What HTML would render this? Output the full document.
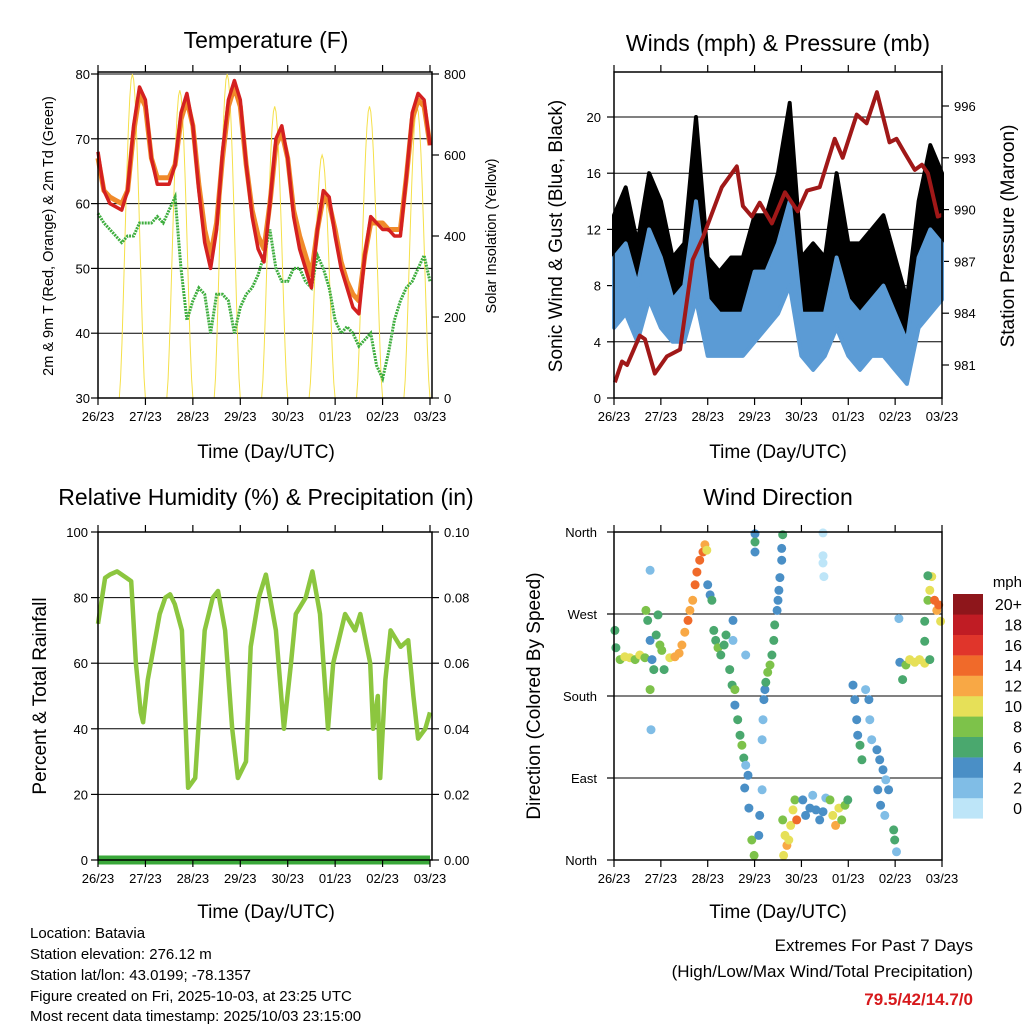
<!DOCTYPE html>
<html><head><meta charset="utf-8"><style>
body{margin:0;background:#fff}
svg{display:block;font-family:"Liberation Sans",sans-serif}
</style></head><body>
<svg id="s" width="1024" height="1024" viewBox="0 0 1024 1024" xmlns="http://www.w3.org/2000/svg">
<g id="layer"></g>
<text x="266" y="48" font-size="23" text-anchor="middle">Temperature (F)</text>
<text x="778" y="51" font-size="23" text-anchor="middle">Winds (mph) &amp; Pressure (mb)</text>
<text x="266" y="505" font-size="23" text-anchor="middle">Relative Humidity (%) &amp; Precipitation (in)</text>
<text x="778" y="505" font-size="23" text-anchor="middle">Wind Direction</text>
<text x="266" y="458" font-size="19" text-anchor="middle">Time (Day/UTC)</text>
<text x="778" y="458" font-size="19" text-anchor="middle">Time (Day/UTC)</text>
<text x="266" y="918" font-size="19" text-anchor="middle">Time (Day/UTC)</text>
<text x="778" y="918" font-size="19" text-anchor="middle">Time (Day/UTC)</text>
<text transform="translate(53,236) rotate(-90)" font-size="14.5" text-anchor="middle">2m &amp; 9m T (Red, Orange) &amp; 2m Td (Green)</text>
<text transform="translate(496,236) rotate(-90)" font-size="14.5" text-anchor="middle">Solar Insolation (Yellow)</text>
<text transform="translate(562,236) rotate(-90)" font-size="19" text-anchor="middle">Sonic Wind &amp; Gust (Blue, Black)</text>
<text transform="translate(1014,236) rotate(-90)" font-size="19" text-anchor="middle">Station Pressure (Maroon)</text>
<text transform="translate(46,696) rotate(-90)" font-size="19" text-anchor="middle">Percent &amp; Total Rainfall</text>
<text transform="translate(540,696) rotate(-90)" font-size="19" text-anchor="middle">Direction (Colored By Speed)</text>
<g font-size="15">
<text x="30" y="938">Location: Batavia</text>
<text x="30" y="959">Station elevation: 276.12 m</text>
<text x="30" y="980">Station lat/lon: 43.0199; -78.1357</text>
<text x="30" y="1001">Figure created on Fri, 2025-10-03, at 23:25 UTC</text>
<text x="30" y="1021">Most recent data timestamp: 2025/10/03 23:15:00</text>
</g>
<g font-size="17" text-anchor="end">
<text x="973" y="951">Extremes For Past 7 Days</text>
<text x="973" y="977">(High/Low/Max Wind/Total Precipitation)</text>
<text x="973" y="1005" fill="#d7191c" font-weight="bold">79.5/42/14.7/0</text>
</g>
<text x="1022" y="587" font-size="15" text-anchor="end">mph</text>
</svg>
<script>
const dayLabels=["26/23","27/23","28/23","29/23","30/23","01/23","02/23","03/23"];
const tempStep=0.125;
const temp2m=[68,62,60,59.5,59,62,72,78,76,67,63,63,63,66,74,77,72,62,54,50,56,68,76,79,76,66,58,53,51,60,70,72,67,58,53,50,47,56,62,61,55,50,47,44,43,52,58,57,56,56,55,55,64,74,77,76,69];
const temp9m=[67,62,61,60.5,60,62,71,77,75,67,64,64,64,66,73,76,72,63,56,52,57,67,75,78,75,66,59,55,53,60,69,71,67,59,55,52,49,56,61,60,56,51,48,46,45,52,57,57,57,56,56,56,64,73,76,75,69];
const dew2m=[58.5,57,56,55,54,55,55,57,57,57,58,57,59,61,50,42,45,47,46,40,46,46,45,40,44,46,47,49,52,56,50,48,48,50,50,48,47,52,50,47,42,40,41,40,38,39,40,35,33,37,42,45,47,48,50,52,48];
const solarDay=[0,1,2,3,4,5,6];
const solarPeak=[800,760,800,720,600,720,720];
const windStep=0.25;
const windLo=[5,6,4,7,5,4,4,7,3,3,3,3,4,5,6,8,3,2,3,5,3,2,3,3,2,1,5,6,7];
const windHi=[10,11,8,12,10,7,8,14,7,6,6,6,9,9,11,14,6,6,6,10,7,6,7,8,6,4,10,12,11];
const gust=[13,15,11,16,14,10,11,20,10,9,10,10,13,13,16,21,10,11,10,16,11,11,12,13,10,7,14,18,16];
const presT=[0.02,0.17,0.28,0.55,0.66,0.87,1.13,1.41,1.68,1.90,2.30,2.62,2.75,2.94,3.11,3.37,3.65,3.92,4.12,4.39,4.71,4.88,5.18,5.39,5.61,5.88,6.03,6.20,6.42,6.57,6.70,6.91,7.0];
const presV=[980.0,981.2,981.0,982.7,982.5,980.5,981.5,981.9,987.1,988.4,991.3,992.5,990.2,989.6,990.4,989.2,991.0,989.9,991.1,991.3,994.1,993.0,995.5,995.0,996.8,993.9,994.1,993.3,992.3,992.6,992.1,989.6,989.7];
const rhT=[0,0.15,0.25,0.4,0.6,0.7,0.8,0.9,0.95,1.05,1.3,1.42,1.52,1.62,1.77,1.9,2.05,2.25,2.42,2.53,2.68,2.83,2.95,3.12,3.22,3.39,3.54,3.75,3.92,4.07,4.17,4.38,4.52,4.68,4.85,4.96,5.21,5.42,5.53,5.74,5.8,5.9,5.95,6.06,6.17,6.38,6.54,6.65,6.75,6.9,7.0];
const rhV=[72,86,87,88,86,85,60,45,42,55,75,80,81,78,70,22,25,70,80,82,70,40,25,30,65,80,87,70,40,60,75,80,88,75,40,60,75,70,75,60,40,50,25,55,70,65,67,50,37,40,45];
const precipT=[0,7];
const precipV=[0,0];
const wdT=[0.02,0.04,0.13,0.23,0.34,0.45,0.55,0.66,
0.68,0.72,0.77,0.81,0.85,0.90,0.94,0.98,1.02,1.07,0.77,0.77,0.79,
1.19,1.30,1.39,
1.45,1.51,1.58,1.62,1.68,1.73,1.77,1.83,1.90,1.94,1.98,
2.00,2.05,2.09,
2.13,2.17,2.22,2.28,2.35,2.39,2.54,2.54,
2.47,2.52,2.58,
2.58,2.64,2.69,2.73,2.77,2.81,2.86,2.79,
2.88,2.94,2.99,3.09,3.11,
3.01,3.01,3.01,
3.16,3.16,3.18,3.20,3.22,3.24,3.28,3.33,3.37,3.41,3.43,3.48,3.50,3.52,3.54,3.58,3.58,3.60,
3.60,3.65,3.69,3.73,3.77,3.82,3.86,3.62,3.90,
4.03,4.09,4.18,4.24,4.31,4.39,4.46,4.52,
4.61,4.67,4.73,4.80,4.86,4.93,4.99,
4.46,4.46,4.46,4.48,
5.10,5.14,5.18,5.20,5.25,5.37,5.44,5.46,5.50,5.29,
5.61,5.67,5.74,5.80,5.86,5.63,5.69,5.78,
5.97,5.99,6.03,
6.10,6.16,6.23,6.31,6.42,6.52,6.63,6.74,
6.63,6.70,6.74,6.78,6.84,6.89,6.93,6.97,6.63,6.70,
6.08,2.81];
const wdDir=[252,233,220,223,222,220,225,222,
274,263,241,220,209,247,269,236,230,209,187,318,143,
222,223,227,
236,250,263,274,285,302,316,329,338,346,340,
302,291,285,
252,241,233,225,236,247,263,241,
209,192,187,
170,154,137,126,112,104,93,79,
57,22,5,27,49,
358,349,338,
77,132,154,176,187,195,206,214,225,241,258,274,285,296,310,329,342,357,
44,27,16,22,38,55,66,5,44,
66,49,57,71,55,44,53,68,
66,49,38,57,44,60,66,
359,334,326,311,
192,176,154,137,126,187,176,154,132,110,
121,110,99,88,77,77,60,49,
33,22,9,
217,198,214,220,217,220,216,220,
262,285,296,311,285,274,280,262,240,312,
265,225];
const wdSpd=[6,6,8,10,10,8,9,8,
7,5,4,3,6,6,5,7,8,6,8,2,2,
10,11,12,
12,12,14,11,12,13,13,14,13,12,10,
4,4,5,
6,6,7,6,6,5,3,2,
5,6,7,
4,6,6,7,6,2,4,4,
4,8,7,4,3,
4,6,4,
2,2,2,4,4,5,7,8,6,6,5,4,4,4,4,4,4,6,
8,9,12,10,10,9,8,10,14,
4,4,3,2,4,4,3,2,
7,9,12,10,8,7,6,
0,0,0,0,
4,4,4,3,5,2,3,2,2,6,
4,4,3,2,3,4,4,2,
6,6,2,
4,6,7,10,10,9,10,6,
6,8,10,9,14,12,13,9,6,6,
1,2];
const speedBins=["0","2","4","6","8","10","12","14","16","18","20+"];
const speedColors=["#bde5f8","#80bde6","#4a8fc6","#4aa86e","#7dc24a","#e6e058","#f8a845","#f06a2a","#e0352b","#c01c24","#8e161b"];

const NS="http://www.w3.org/2000/svg";
const L=document.getElementById('layer');
function el(tag,attrs,parent){const e=document.createElementNS(NS,tag);for(const k in attrs)e.setAttribute(k,attrs[k]);(parent||L).appendChild(e);return e;}
function lin(d0,d1,r0,r1){return v=>r0+(v-d0)/(d1-d0)*(r1-r0);}
function poly(xs,ys,sx,sy){return xs.map((x,i)=>sx(x).toFixed(1)+','+sy(ys[i]).toFixed(1)).join(' ');}
function stepT(n,step){const a=[];for(let i=0;i<n;i++)a.push(i*step);return a;}

function frame(x0,y0,x1,y1,sx,name){
  const g=el('g',{});
  
  
  el('rect',{x:x0,y:y0,width:x1-x0,height:y1-y0,fill:'none',stroke:'#000','stroke-width':1.5},g);
  dayLabels.forEach((lab,i)=>{
    const x=sx(i);
    el('line',{x1:x,x2:x,y1:y1,y2:y1+7,stroke:'#000','stroke-width':1.2},g);
    el('line',{x1:x,x2:x,y1:y0,y2:y0-7,stroke:'#000','stroke-width':1.2},g);
    const t=el('text',{x:x,y:y1+23,'font-size':13,'text-anchor':'middle'},g);
    t.textContent=lab;
  });
}
function hgrid(vals,sy,x0,x1,xl,xr,labels){
  const g=el('g',{});
  
  
  vals.forEach((v,i)=>{
    const y=sy(v);
    el('line',{x1:x0,x2:x1,y1:y,y2:y,stroke:'#000','stroke-width':1},g);
    el('line',{x1:x0-7,x2:x0,y1:y,y2:y,stroke:'#000','stroke-width':1.2},g);
    if(labels){const t=el('text',{x:xl,y:y+5,'font-size':13,'text-anchor':'end'},g);t.textContent=labels[i];}
  });
}
function rticks(vals,sy,x1,labels){
  const g=el('g',{});
  
  
  vals.forEach((v,i)=>{
    const y=sy(v);
    el('line',{x1:x1,x2:x1+7,y1:y,y2:y,stroke:'#000','stroke-width':1.2},g);
    const t=el('text',{x:x1+12,y:y+5,'font-size':13,'text-anchor':'start'},g);t.textContent=labels[i];
  });
}

/* ---------- Temperature ---------- */
const xT=lin(0,7,98,430), yT=lin(30,80,398,74), yS=lin(0,800,398,74);
hgrid([30,40,50,60,70,80],yT,98,432,90,0,["30","40","50","60","70","80"]);
rticks([0,200,400,600,800],yS,432,["0","200","400","600","800"]);
solarDay.forEach((d,i)=>{
  const pts=[];
  for(let k=0;k<=20;k++){const f=k/20;const t=d+0.45+f*0.55;const shape=Math.pow(Math.sin(Math.PI*f),1.5);pts.push([t,solarPeak[i]*shape]);}
  const p=el('polyline',{points:pts.map(q=>xT(q[0]).toFixed(1)+','+yS(q[1]).toFixed(1)).join(' '),fill:'none',stroke:'#f5e04a','stroke-width':1});
  
  
});
const tt=stepT(temp2m.length,tempStep);
let p;
p=el('polyline',{points:poly(tt,dew2m,xT,yT),fill:'none',stroke:'#3fae3f','stroke-width':3,'stroke-dasharray':'2 1'});


p=el('polyline',{points:poly(tt,temp9m,xT,yT),fill:'none',stroke:'#f08a2a','stroke-width':5,'stroke-linejoin':'round'});


p=el('polyline',{points:poly(tt,temp2m,xT,yT),fill:'none',stroke:'#d42020','stroke-width':3.5,'stroke-linejoin':'round'});


frame(98,72,432,398,xT,'temperature');

/* ---------- Winds ---------- */
const xW=lin(0,7,614,942), yW=lin(0,20,398,117), yP=lin(981,996,365,106);
hgrid([0,4,8,12,16,20],yW,614,942,601,0,["0","4","8","12","16","20"]);
rticks([981,984,987,990,993,996],yP,942,["981","984","987","990","993","996"]);
const wt=stepT(gust.length,windStep);
function band(lo,hi,color,name){
  const up=wt.map((t,i)=>xW(t).toFixed(1)+','+yW(hi[i]).toFixed(1));
  const dn=wt.map((t,i)=>xW(t).toFixed(1)+','+yW(lo[i]).toFixed(1)).reverse();
  const b=el('polygon',{points:up.concat(dn).join(' '),fill:color,stroke:color,'stroke-width':4,'stroke-linejoin':'round'});
  
  
}
band(windHi,gust,'#000','gust-band');
band(windLo,windHi,'#5b9bd5','wind-speed-band');
p=el('polyline',{points:poly(presT,presV,xW,yP),fill:'none',stroke:'#a01818','stroke-width':4,'stroke-linejoin':'round'});


frame(614,72,942,398,xW,'winds');

/* ---------- RH ---------- */
const xR=lin(0,7,98,430), yR=lin(0,100,860,532), yPr=lin(0,0.1,860,532);
hgrid([0,20,40,60,80,100],yR,98,432,88,0,["0","20","40","60","80","100"]);
rticks([0,0.02,0.04,0.06,0.08,0.10],yPr,432,["0.00","0.02","0.04","0.06","0.08","0.10"]);
p=el('polyline',{points:poly(rhT,rhV,xR,yR),fill:'none',stroke:'#8cc63f','stroke-width':4.5,'stroke-linejoin':'round'});


p=el('polyline',{points:poly(precipT,precipV,xR,yPr),fill:'none',stroke:'#3aa83a','stroke-width':9});


frame(98,532,432,860,xR,'humidity');

/* ---------- Wind direction ---------- */
const xD=lin(0,7,614,942), yD=lin(0,360,860,532);
hgrid([0,90,180,270,360],yD,614,942,597,0,["North","East","South","West","North"]);
wdT.forEach((t,i)=>{
  const idx=Math.min(10,Math.round(wdSpd[i]/2));
  const c=el('circle',{cx:xD(t).toFixed(1),cy:yD(wdDir[i]).toFixed(1),r:4.5,fill:speedColors[idx]});
  
  
});
frame(614,532,942,860,xD,'direction');

/* colorbar */
speedBins.forEach((lab,i)=>{
  const k=10-i;
  const y=594+k*20.4;
  const r=el('rect',{x:953,y:y.toFixed(1),width:30,height:20.6,fill:speedColors[i]});
  
  
  const t=el('text',{x:1022,y:(y+16).toFixed(1),'font-size':16,'text-anchor':'end'});
  
  
  t.textContent=lab;
});
</script>
</body></html>
